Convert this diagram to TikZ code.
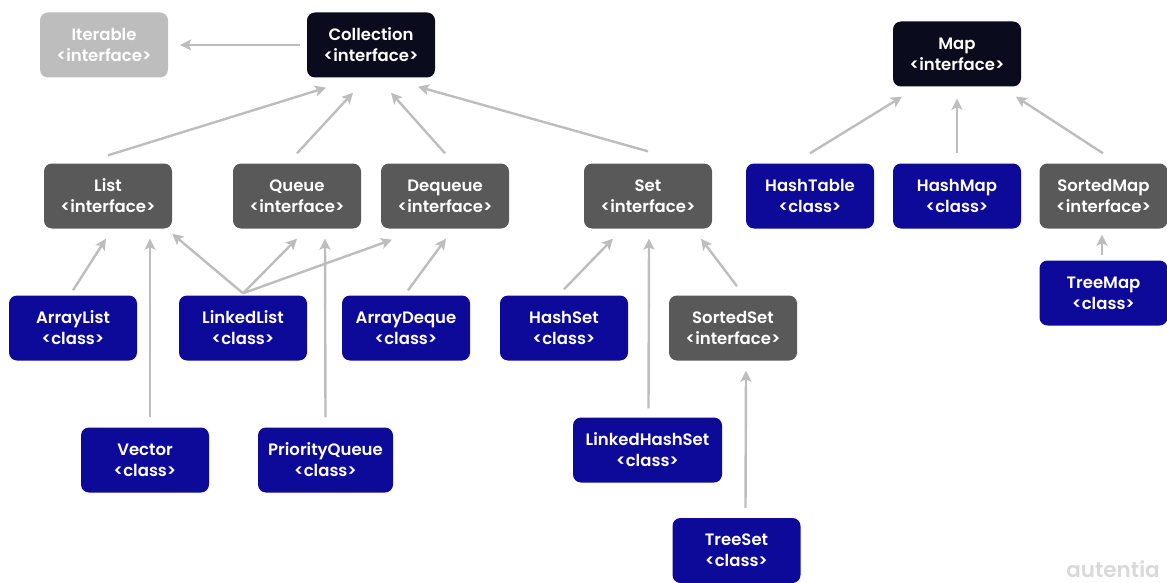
\documentclass[tikz,border=0pt]{standalone}
\usepackage{fontspec}
\setmainfont{Poppins}[BoldFont={Poppins SemiBold}]
\usetikzlibrary{arrows.meta}
\definecolor{navy}{HTML}{0B0B1E}
\definecolor{ifgray}{HTML}{595959}
\definecolor{clsblue}{HTML}{0D0A99}
\definecolor{pale}{HTML}{BDBDBD}
\definecolor{wm}{HTML}{D9D9D9}
\tikzset{
  box/.style={rectangle, rounded corners=8pt, minimum width=128pt, minimum height=65pt,
    text=white, align=center, inner sep=2pt,
    font=\fontsize{16.5}{21}\selectfont\bfseries},
  rootbox/.style={box, fill=navy},
  ifbox/.style={box, fill=ifgray},
  clsbox/.style={box, fill=clsblue},
  topbox/.style={box, fill=pale},
  arr/.style={draw=pale, line width=2.4pt, -{Stealth[length=11pt,width=11pt,inset=2.5pt]}},
}
\begin{document}
\begin{tikzpicture}[x=1pt,y=-1pt]
\useasboundingbox (0,0) rectangle (1167,583);
% roots
\node[topbox]  (iter) at (104,45) {Iterable\\<interface>};
\node[rootbox] (coll) at (371,45) {Collection\\<interface>};
\node[rootbox] (map)  at (957,54) {Map\\<interface>};
% second level
\node[ifbox] (list)  at (108,196) {List\\<interface>};
\node[ifbox] (queue) at (297,196) {Queue\\<interface>};
\node[ifbox] (deq)   at (445,196) {Dequeue\\<interface>};
\node[ifbox] (set)   at (648,196) {Set\\<interface>};
\node[clsbox] (htab) at (810,196) {HashTable\\<class>};
\node[clsbox] (hmap) at (957,196) {HashMap\\<class>};
\node[ifbox] (smap)  at (1103.5,196) {SortedMap\\<interface>};
\node[clsbox] (tmap) at (1103.5,293) {TreeMap\\<class>};
% third level
\node[clsbox] (alist) at (73,328)  {ArrayList\\<class>};
\node[clsbox] (llist) at (243,328) {LinkedList\\<class>};
\node[clsbox] (adeq)  at (406,328) {ArrayDeque\\<class>};
\node[clsbox] (hset)  at (564,328) {HashSet\\<class>};
\node[ifbox]  (sset)  at (733,328) {SortedSet\\<interface>};
% fourth level
\node[clsbox] (vec)   at (145,460) {Vector\\<class>};
\node[clsbox, minimum width=135pt] (pq) at (325.5,460) {PriorityQueue\\<class>};
\node[clsbox, minimum width=149pt] (lhs) at (647.5,450) {LinkedHashSet\\<class>};
\node[clsbox] (tset)  at (736.5,550.5) {TreeSet\\<class>};
% Collection hierarchy
\draw[arr] ([xshift=-7pt]coll.west) -- ([xshift=12pt]iter.east);
\draw[arr] ([yshift=8pt]list.north) -- ([xshift=-45pt,yshift=-10pt]coll.south);
\draw[arr] ([yshift=10pt]queue.north) -- ([xshift=-18pt,yshift=-15pt]coll.south);
\draw[arr] ([yshift=10pt]deq.north) -- ([xshift=20pt,yshift=-15pt]coll.south);
\draw[arr] ([yshift=12pt]set.north) -- ([xshift=47pt,yshift=-9pt]coll.south);
\draw[arr] ([yshift=5pt]alist.north) -- ([xshift=-2pt,yshift=-10pt]list.south);
\draw[arr] ([xshift=5pt,yshift=10pt]vec.north) -- ([xshift=42pt,yshift=-10pt]list.south);
\draw[arr] ([yshift=2pt]llist.north) -- ([yshift=-5pt]list.south east);
\draw[arr] ([yshift=2pt]llist.north) -- ([yshift=-10pt]queue.south);
\draw[arr] ([yshift=2pt]llist.north) -- ([xshift=-53pt,yshift=-11pt]deq.south);
\draw[arr] ([yshift=10pt]pq.north) -- ([xshift=28pt,yshift=-10pt]queue.south);
\draw[arr] ([xshift=2pt,yshift=5pt]adeq.north) -- ([xshift=1pt,yshift=-10pt]deq.south);
\draw[arr] ([yshift=6pt]hset.north) -- ([xshift=-35pt,yshift=-10pt]set.south);
\draw[arr] ([xshift=1pt,yshift=9pt]lhs.north) -- ([xshift=1pt,yshift=-10pt]set.south);
\draw[arr] ([xshift=4pt,yshift=9pt]sset.north) -- ([xshift=53pt,yshift=-10pt]set.south);
\draw[arr] ([xshift=9pt,yshift=10pt]tset.north) -- ([xshift=13pt,yshift=-10pt]sset.south);
% Map hierarchy
\draw[arr] ([yshift=10pt]htab.north) -- ([xshift=-55pt,yshift=-10pt]map.south);
\draw[arr] ([yshift=10pt]hmap.north) -- ([yshift=-12pt]map.south);
\draw[arr] ([xshift=-0.5pt,yshift=10pt]smap.north) -- ([xshift=59pt,yshift=-10pt]map.south);
\draw[arr] ([xshift=-1.5pt,yshift=5pt]tmap.north) -- ([xshift=-1.5pt,yshift=-6pt]smap.south);
% mark
\node[text=wm, inner sep=0pt, font=\fontsize{21.5}{22}\selectfont\bfseries, anchor=base east] (mark) at (1160,577) {autentia};
\end{tikzpicture}
\end{document}
